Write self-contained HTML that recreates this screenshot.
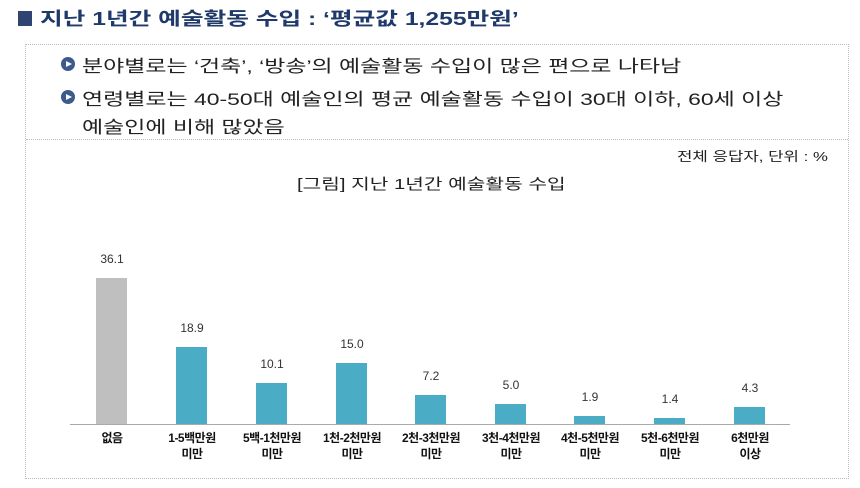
<!DOCTYPE html>
<html><head><meta charset="utf-8"><style>
body{margin:0;width:860px;height:488px;background:#fff;font-family:"Liberation Sans","Noto Sans CJK KR",sans-serif;position:relative;overflow:hidden}
.a{position:absolute;white-space:nowrap}
.s{transform-origin:0 0}
.title{left:40px;top:5px;font-size:18px;font-weight:bold;color:#1f3a6a;transform:scaleX(1.37)}
.sq{left:18px;top:11px;width:14px;height:15px;background:#2f4470}
.box{left:25px;top:44px;width:822px;height:433px;border:1px dotted #bbb}
.sep{left:26px;top:139px;width:822px;border-top:1px dotted #bbb}
.bul{font-size:17px;color:#222;transform:scaleX(1.35)}
.ic{width:14px;height:14px;border-radius:50%;background:#3d5a8c}
.ic:after{content:"";position:absolute;left:5px;top:3.5px;border-left:6px solid #fff;border-top:3.5px solid transparent;border-bottom:3.5px solid transparent}
.bar{position:absolute;width:31px;background:#4bacc6}
.v{position:absolute;width:60px;text-align:center;font-size:12px;color:#333}
.l{position:absolute;width:90px;text-align:center;font-size:12px;font-weight:bold;color:#111;line-height:16px;letter-spacing:-0.5px}
</style></head><body>
<div class="a sq"></div>
<div class="a s title">지난 1년간 예술활동 수입 : ‘평균값 1,255만원’</div>
<div class="a box"></div>
<div class="a sep"></div>
<div class="a ic" style="left:61px;top:57px"></div>
<div class="a s bul" style="left:82px;top:52px">분야별로는 ‘건축’, ‘방송’의 예술활동 수입이 많은 편으로 나타남</div>
<div class="a ic" style="left:61px;top:90px"></div>
<div class="a s bul" style="left:82px;top:85px">연령별로는 40-50대 예술인의 평균 예술활동 수입이 30대 이하, 60세 이상</div>
<div class="a s bul" style="left:82px;top:113px">예술인에 비해 많았음</div>
<div class="a s" style="left:677px;top:146px;font-size:13px;color:#222;transform:scaleX(1.29)">전체 응답자, 단위 : %</div>
<div class="a s" style="left:297px;top:173px;font-size:15px;color:#222;transform:scaleX(1.35)">[그림] 지난 1년간 예술활동 수입</div>
<div class="a" style="left:70px;top:424px;width:720px;border-top:1px solid #aaa"></div>
<div class="bar" style="left:96px;top:278px;height:146px;background:#bfbfbf"></div>
<div class="bar" style="left:176px;top:347px;height:77px"></div>
<div class="bar" style="left:256px;top:383px;height:41px"></div>
<div class="bar" style="left:336px;top:363px;height:61px"></div>
<div class="bar" style="left:415px;top:395px;height:29px"></div>
<div class="bar" style="left:495px;top:404px;height:20px"></div>
<div class="bar" style="left:574px;top:416px;height:8px"></div>
<div class="bar" style="left:654px;top:418px;height:6px"></div>
<div class="bar" style="left:734px;top:407px;height:17px"></div>
<div class="v" style="left:82px;top:252px">36.1</div>
<div class="v" style="left:162px;top:321px">18.9</div>
<div class="v" style="left:242px;top:357px">10.1</div>
<div class="v" style="left:322px;top:337px">15.0</div>
<div class="v" style="left:401px;top:369px">7.2</div>
<div class="v" style="left:481px;top:378px">5.0</div>
<div class="v" style="left:560px;top:390px">1.9</div>
<div class="v" style="left:640px;top:392px">1.4</div>
<div class="v" style="left:720px;top:381px">4.3</div>
<div class="l" style="left:67px;top:430px">없음</div>
<div class="l" style="left:147px;top:430px">1-5백만원<br>미만</div>
<div class="l" style="left:227px;top:430px">5백-1천만원<br>미만</div>
<div class="l" style="left:307px;top:430px">1천-2천만원<br>미만</div>
<div class="l" style="left:386px;top:430px">2천-3천만원<br>미만</div>
<div class="l" style="left:466px;top:430px">3천-4천만원<br>미만</div>
<div class="l" style="left:545px;top:430px">4천-5천만원<br>미만</div>
<div class="l" style="left:625px;top:430px">5천-6천만원<br>미만</div>
<div class="l" style="left:705px;top:430px">6천만원<br>이상</div>
</body></html>
